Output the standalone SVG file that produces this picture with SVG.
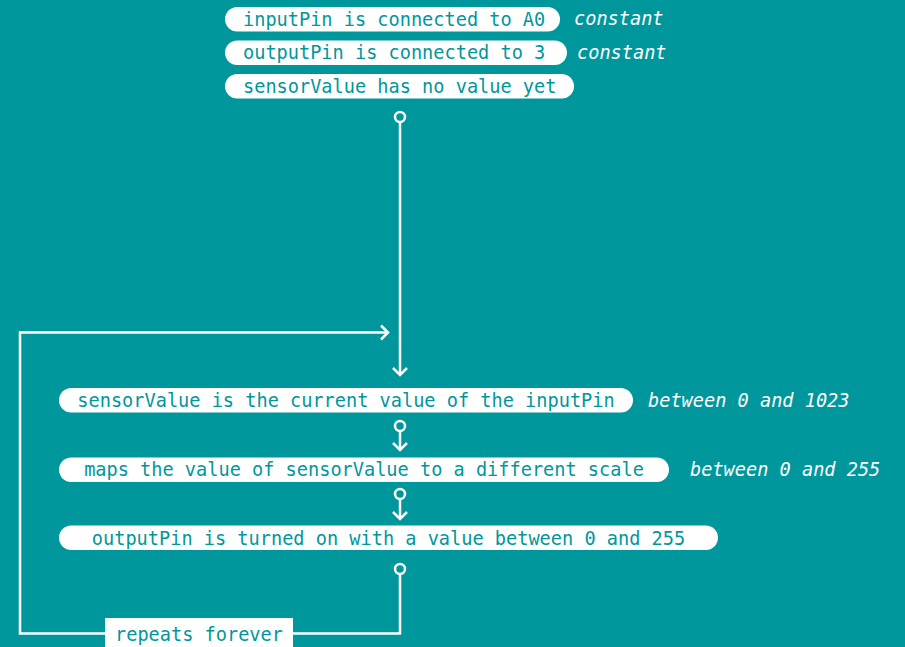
<svg xmlns="http://www.w3.org/2000/svg" width="905" height="647" viewBox="0 0 905 647">
<style>
.pill{fill:#fff}
.t{font-family:"DejaVu Sans Mono","Liberation Mono",monospace;font-size:18.6px;fill:#00979c}
.n{font-family:"DejaVu Sans Mono","Liberation Mono",monospace;font-size:18.6px;font-style:italic;fill:#fff}
.c{text-anchor:middle}
.ln{fill:none;stroke:#fff;stroke-width:2.5}
.dot{fill:#00979c;stroke:#fff;stroke-width:2.5}
</style>
<defs>
<marker id="chev" markerWidth="14" markerHeight="18" refX="9" refY="9" orient="auto" markerUnits="userSpaceOnUse">
<path d="M2,2 L9,9 L2,16" fill="none" stroke="#fff" stroke-width="2.5"/>
</marker>
</defs>
<rect width="905" height="647" fill="#00979c"/>
<g id="n1"><rect class="pill" x="225" y="7" width="335" height="24.5" rx="12.25"/><text class="t" x="243" y="25.5">inputPin is connected to A0</text><text class="n" x="574" y="25">constant</text></g>
<g id="n2"><rect class="pill" x="225" y="40.5" width="342" height="24.5" rx="12.25"/><text class="t" x="243" y="59">outputPin is connected to 3</text><text class="n" x="577" y="58.5">constant</text></g>
<g id="n3"><rect class="pill" x="225" y="74" width="349" height="24.5" rx="12.25"/><text class="t" x="243" y="92.5">sensorValue has no value yet</text></g>
<g id="n4"><rect class="pill" x="59" y="388" width="574" height="24.5" rx="12.25"/><text class="t c" x="346" y="407">sensorValue is the current value of the inputPin</text><text class="n" x="648" y="407">between 0 and 1023</text></g>
<g id="n5"><rect class="pill" x="59" y="457.5" width="610" height="24.5" rx="12.25"/><text class="t c" x="364" y="476">maps the value of sensorValue to a different scale</text><text class="n" x="690" y="475.5">between 0 and 255</text></g>
<g id="n6"><rect class="pill" x="59" y="525.5" width="659" height="24.5" rx="12.25"/><text class="t c" x="388.5" y="544.5">outputPin is turned on with a value between 0 and 255</text></g>
<g id="connectors">
<path class="ln" d="M400,122 V375" marker-end="url(#chev)"/>
<circle class="dot" cx="400" cy="117" r="5"/>
<path class="ln" d="M400,431 V450" marker-end="url(#chev)"/>
<circle class="dot" cx="400" cy="426" r="5"/>
<path class="ln" d="M400,499 V519" marker-end="url(#chev)"/>
<circle class="dot" cx="400" cy="494" r="5"/>
<path class="ln" d="M400,574 V633.5 H20 V332.5 H388" marker-end="url(#chev)"/>
<circle class="dot" cx="400" cy="569" r="5"/>
</g>
<g id="loop-label"><rect x="105" y="618" width="188" height="30" fill="#fff"/><text class="t" x="115" y="640.5">repeats forever</text></g>
</svg>
